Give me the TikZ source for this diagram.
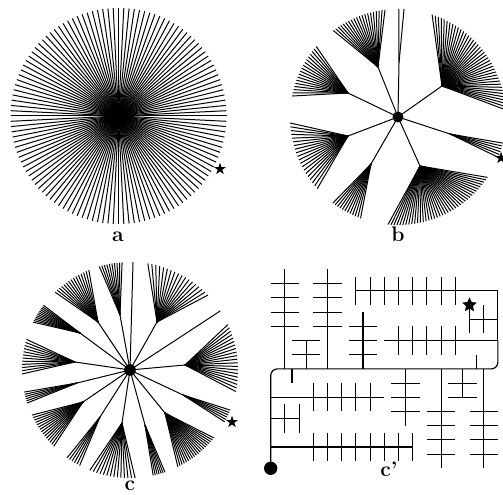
\documentclass[tikz,border=0pt]{standalone}
\usepackage{tikz}
\usetikzlibrary{calc,shapes.geometric}

% leaves from a hub out to the rim (radius 108) of a disc
\newcommand{\leaffan}[5]{%
  \foreach \k in {1,...,#5}{
    \pgfmathsetmacro{\ang}{(#3)+((#4)-(#3))*(\k-1)/((#5)-1)}
    \draw[leaf] (#2) -- ($(#1)+(\ang:108)$);
  }}

\begin{document}
\begin{tikzpicture}[
  x=0.3mm, y=-0.3mm,
  font=\fontsize{18}{21}\selectfont\bfseries,
  leaf/.style={draw=black, line width=0.85pt},
  wire/.style={draw=black, line width=1pt},
  rootdot/.style={circle, fill=black, inner sep=0pt, minimum size=#1},
  starmark/.style={star, star points=5, star point ratio=2.6, fill=black,
                   inner sep=0pt, minimum size=3.8mm},
  bigstarmark/.style={star, star points=5, star point ratio=2.1, fill=black,
                   inner sep=0pt, minimum size=4.6mm},
  lbl/.style={anchor=base, inner sep=0pt}
]
\useasboundingbox (0,0) rectangle (503,495);

% a
\coordinate (ca) at (118.5,116);
\foreach \k in {0,...,127}
  \draw[leaf] (ca) -- ++(\k*2.8125:108);
\node[starmark] (sa) at (220,169) {};
\node[lbl] (la) at (118,242) {a};

% b
\coordinate (cb) at (398,117);
\foreach \hx/\hy/\p/\q/\n [count=\i] in {
    378/67/-126.8/-96.9/20, 348/93/-139.2/-168.8/18, 348/136/176.8/138.4/20,
    371/164/127.1/110.3/12, 420/166/95.3/34/40, 450/134/14/21.9/6,
    442/86/-71.6/-3.8/40, 399/63/-89.5/-86.8/2}{
  \coordinate (b\i) at (\hx,\hy);
  \draw[leaf] (cb) -- (b\i);
  \leaffan{cb}{b\i}{\p}{\q}{\n}
}
\node[rootdot=3.3mm] (rb) at (cb) {};
\node[starmark] (sb) at (501,158) {};
\node[lbl] (lb) at (398,242) {b};

% c
\coordinate (cc) at (130,370);
\draw[leaf] (cc) -- ++(-88.4:108);
\draw[leaf] (cc) -- ++(-33.2:108);
\foreach \hx/\hy/\p/\q/\n [count=\i] in {
    157/322/-80.5/-43.9/18, 185/365/-24.9/11.5/20, 183/395/21.8/28.7/6,
    165/413/39/63.7/20, 145/425/77.6/71.1/7, 122/423/111.8/87.3/14,
    100/417/125.6/117.8/6, 83/402/155.3/135/15, 77/383/168.2/162.2/6,
    75/362/-163.5/-182.1/12, 80/333/-153.7/-143.2/12, 98/322/-133.9/-112.4/15,
    120/315/-106.5/-94.2/10}{
  \coordinate (c\i) at (\hx,\hy);
  \draw[leaf] (cc) -- (c\i);
  \leaffan{cc}{c\i}{\p}{\q}{\n}
}
\node[rootdot=3.5mm] (rc) at (cc) {};
\node[starmark] (sc) at (232,422) {};
\node[lbl] (lc) at (130,491) {c};

% c'
\begin{scope}[shift={(270.7,468.3)}, x=4.26mm, y=4.26mm]
  \node[rootdot=4mm] (r) at (0,0) {};
  \draw[wire, rounded corners=2mm] (r.center) |- (16,7) -- (16,9);
  \draw[wire] (16,9) |- (6,12.5);
  % above the spine
  \foreach \x in {1,4}{
    \draw[wire] (\x,7) -- (\x,14);
    \foreach \y in {10,...,13} \draw[wire] (\x-1,\y) -- (\x+1,\y);
  }
  \draw[wire] (2.5,7) -- (2.5,9);
  \foreach \y in {8,9} \draw[wire] (1.5,\y) -- (3.5,\y);
  \draw[wire] (6.5,7) -- (6.5,11);
  \foreach \y in {8,9,10} \draw[wire] (5.5,\y) -- (7.5,\y);
  \foreach \x in {6,...,13} \draw[wire] (\x,11.5) -- (\x,13.5);
  \draw[wire] (8,9) -- (16,9);
  \foreach \x in {9,...,13} \draw[wire] (\x,8) -- (\x,10);
  \draw[wire] (14,10.5) -- (16,10.5);
  \foreach \x in {14,15} \draw[wire] (\x,9.5) -- (\x,11.5);
  \draw[wire] (14.5,7) -- (14.5,8);
  \node[bigstarmark] (s) at (14,11.5) {};
  % below the spine
  \draw[wire] (1.5,7) -- (1.5,6);
  \draw[wire] (0,5) -- (8,5);
  \foreach \x in {3,...,7} \draw[wire] (\x,4) -- (\x,6);
  \draw[wire] (0,3.5) -- (2,3.5);
  \foreach \x in {1,2} \draw[wire] (\x,2.5) -- (\x,4.5);
  \draw[wire] (0,1.5) -- (10,1.5);
  \foreach \x in {3,...,10} \draw[wire] (\x,0.5) -- (\x,2.5);
  \draw[wire] (9.5,7) -- (9.5,3);
  \foreach \y in {4,5,6} \draw[wire] (8.5,\y) -- (10.5,\y);
  \draw[wire] (13.5,7) -- (13.5,5);
  \foreach \y in {5,6} \draw[wire] (12.5,\y) -- (14.5,\y);
  \foreach \x in {12,15}{
    \draw[wire] (\x,7) -- (\x,0);
    \foreach \y in {1,...,4} \draw[wire] (\x-1,\y) -- (\x+1,\y);
  }
\end{scope}
\node[lbl] (lcp) at (389,477) {c’};
\end{tikzpicture}
\end{document}
